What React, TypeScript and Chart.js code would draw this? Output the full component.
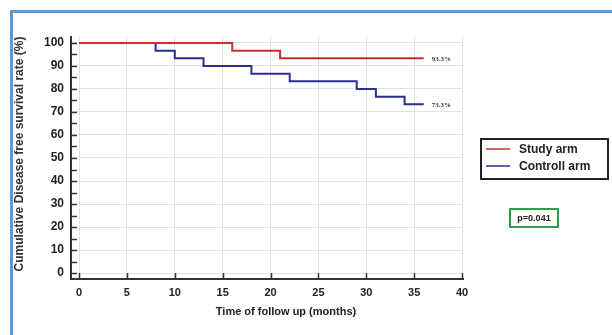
import React, { useEffect, useRef } from "react";
import { Chart, registerables } from "chart.js";

Chart.register(...registerables);

const seriesNames = ["Study arm", "Controll arm"];
const studyTimes = [0, 16, 21, 36];
const studySurvival = [100, 96.67, 93.33, 93.33];
const controlTimes = [0, 8, 10, 13, 18, 22, 29, 31, 34, 36];
const controlSurvival = [100, 96.67, 93.33, 90, 86.67, 83.33, 80, 76.67, 73.33, 73.33];
const endLabels = ["93.3%", "73.3%"];
const pValueText = "p=0.041";
const xTitle = "Time of follow up (months)";
const yTitle = "Cumulative Disease free survival rate (%)";

const FONT = "'Liberation Sans', Arial, sans-serif";

const overlayPlugin = {
  id: "overlay",
  afterDraw(chart: any) {
    const { ctx, chartArea, scales } = chart;
    const x = scales.x;
    const y = scales.y;
    ctx.save();
    // inward ticks
    ctx.strokeStyle = "#333";
    ctx.lineWidth = 1.5;
    for (let v = 0; v <= 100; v += 5) {
      const py = Math.round(y.getPixelForValue(v)) + 0.5;
      ctx.beginPath();
      ctx.moveTo(chartArea.left, py);
      ctx.lineTo(chartArea.left + 6, py);
      ctx.stroke();
    }
    for (let v = 0; v <= 40; v += 5) {
      const px = Math.round(x.getPixelForValue(v)) + 0.5;
      ctx.beginPath();
      ctx.moveTo(px, chartArea.bottom);
      ctx.lineTo(px, chartArea.bottom - 6);
      ctx.stroke();
    }
    // end labels
    ctx.fillStyle = "#333";
    ctx.font = "bold 7px 'Liberation Serif', serif";
    ctx.textBaseline = "middle";
    ctx.textAlign = "left";
    chart.data.datasets.forEach((ds: any, i: number) => {
      const last = ds.data[ds.data.length - 1];
      const px = x.getPixelForValue(last.x);
      const py = y.getPixelForValue(last.y);
      ctx.fillText(endLabels[i], px + 8, py + 1);
    });
    // axis titles
    ctx.fillStyle = "#222";
    ctx.font = `bold 11px ${FONT}`;
    ctx.textAlign = "center";
    ctx.fillText(xTitle, 286, 312);
    ctx.save();
    ctx.translate(20, 154);
    ctx.rotate(-Math.PI / 2);
    ctx.fillStyle = "#333";
    ctx.font = `bold 12px ${FONT}`;
    ctx.fillText(yTitle, 0, 0);
    ctx.restore();
    // legend
    ctx.strokeStyle = "#222";
    ctx.lineWidth = 2;
    ctx.strokeRect(481, 139, 127, 40);
    const legendRows = [149, 166];
    chart.data.datasets.forEach((ds: any, i: number) => {
      ctx.strokeStyle = ds.borderColor;
      ctx.lineWidth = 1.5;
      ctx.beginPath();
      ctx.moveTo(486, legendRows[i]);
      ctx.lineTo(510, legendRows[i]);
      ctx.stroke();
      ctx.fillStyle = "#222";
      ctx.font = `bold 12px ${FONT}`;
      ctx.textAlign = "left";
      ctx.fillText(ds.label, 519, legendRows[i] + 1);
    });
    // p value box
    ctx.strokeStyle = "#2e9e4a";
    ctx.lineWidth = 2;
    ctx.strokeRect(510, 209, 48, 18);
    ctx.fillStyle = "#222";
    ctx.font = `bold 9px ${FONT}`;
    ctx.textAlign = "center";
    ctx.fillText(pValueText, 534, 218.5);
    ctx.restore();
  },
};

export default function App() {
  const canvasRef = useRef<HTMLCanvasElement | null>(null);

  useEffect(() => {
    if (!canvasRef.current) return;
    const chart = new Chart(canvasRef.current, {
      type: "line",
      data: {
        datasets: [
          {
            label: seriesNames[0],
            data: studyTimes.map((t, i) => ({ x: t, y: studySurvival[i] })),
            borderColor: "#c9302c",
            borderWidth: 2,
            stepped: true,
            pointRadius: 0,
            fill: false,
          },
          {
            label: seriesNames[1],
            data: controlTimes.map((t, i) => ({ x: t, y: controlSurvival[i] })),
            borderColor: "#2b2f8f",
            borderWidth: 2,
            stepped: true,
            pointRadius: 0,
            fill: false,
          },
        ],
      },
      options: {
        animation: false,
        responsive: false,
        layout: { padding: { left: 0, top: 37, right: 149, bottom: 0 } },
        plugins: { legend: { display: false }, tooltip: { enabled: false } },
        scales: {
          x: {
            type: "linear",
            min: -0.84,
            max: 40.1,
            afterFit: (s: any) => {
              s.height = 56;
            },
            ticks: {
              stepSize: 5,
              includeBounds: false,
              padding: 7,
              color: "#222",
              font: { family: FONT, size: 11, weight: "bold" },
              maxRotation: 0,
              callback: (v: any) => String(v),
            },
            grid: { color: "#e2e2e2", lineWidth: 1, drawTicks: false },
            border: { color: "#333", width: 2 },
          },
          y: {
            type: "linear",
            min: -2.6,
            max: 102.6,
            afterFit: (s: any) => {
              s.width = 71;
            },
            ticks: {
              stepSize: 5,
              includeBounds: false,
              padding: 7,
              color: "#222",
              font: { family: FONT, size: 12, weight: "bold" },
              callback: (v: any) => (Number(v) % 10 === 0 ? String(v) : ""),
            },
            grid: { color: "#e2e2e2", lineWidth: 1, drawTicks: false },
            border: { color: "#333", width: 2 },
          },
        },
      },
      plugins: [overlayPlugin],
    } as any);
    return () => chart.destroy();
  }, []);

  return (
    <div style={{ position: "absolute", left: 0, top: 0, width: 612, height: 335, background: "#fff" }}>
      <canvas ref={canvasRef} width={612} height={335} style={{ display: "block" }} />
      <div
        style={{
          position: "absolute",
          left: 10,
          top: 10,
          right: 0,
          bottom: 0,
          borderLeft: "3px solid #5b9bd5",
          borderTop: "3px solid #5b9bd5",
          pointerEvents: "none",
        }}
      />
    </div>
  );
}
